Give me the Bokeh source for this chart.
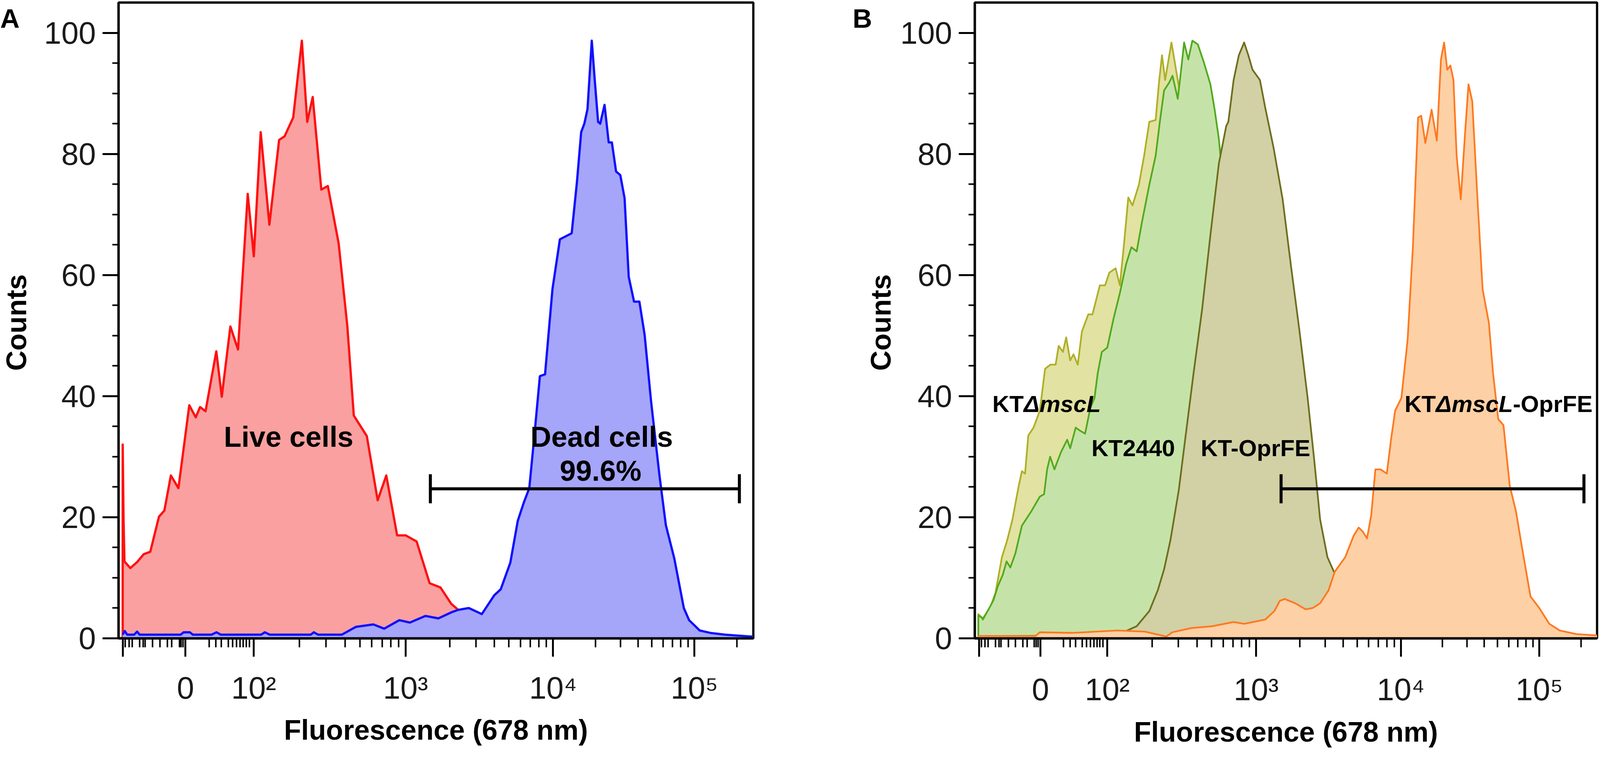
import math
from bokeh.plotting import figure
from bokeh.layouts import row
from bokeh.models import FixedTicker
from bokeh.core.properties import value
from bokeh.embed import file_html
from bokeh.resources import INLINE

# ---------------- data (x in display channels 0..1024 of a logicle axis) ----------------
LIVE_X = [6.7, 6.7, 8, 9.5, 19, 30, 40.7, 51.2, 65.2, 73.9, 84.4, 96.6, 114.1, 124.5, 131.5, 140.3,
          157.7, 166.5, 180.4, 192.7, 208.4, 218.2, 229.3, 243.3, 259, 267.8, 281.7, 295.7, 304.4,
          313.2, 327.1, 337.6, 355.1, 369.1, 379.5, 400.5, 418, 431.9, 449.4, 463.4, 480.8, 501.8,
          519.3, 536.7, 548, 560, 575, 590, 1024]
LIVE_Y = [0, 32, 20, 12.7, 11.6, 12.6, 13.9, 14.3, 20.1, 21.1, 26.9, 24.8, 38.5, 36.5, 38.2, 37.5,
          47.4, 39.9, 51.5, 47.7, 73.4, 63.1, 83.6, 68.3, 82.3, 82.9, 86.0, 98.7, 85.3,
          89.4, 74.1, 74.7, 65.2, 51.5, 36.8, 33.4, 22.8, 26.9, 17.0, 17.0, 16.0, 9.1,
          8.4, 5.7, 4.7, 3.5, 1.0, 0.3, 0.3]

DEAD_X = [6.7, 10, 14, 25, 30, 34, 60, 100, 105, 115, 120, 150, 158, 165, 230, 236, 244, 310, 315,
          322, 360, 383, 411, 428.5, 453, 470, 495, 516, 537, 548, 565, 586, 606, 616.5, 632, 644,
          654, 662.6, 671, 679.7, 688, 700, 712, 731, 739.5, 746.3, 751.4, 756.5, 763.4, 768.5,
          773.6, 777, 784, 790.7, 795.8, 802.6, 809.4, 816.3, 823, 831.6, 840.2, 848.7, 859,
          872.6, 882.9, 896.5, 911.9, 920.4, 937.5, 954.6, 978.5, 1019.5, 1024]
DEAD_Y = [0.6, 1.2, 0.6, 0.6, 1.1, 0.6, 0.6, 0.6, 1.0, 1.0, 0.6, 0.6, 1.0, 0.6, 0.6, 1.0, 0.6, 0.6, 1.0,
          0.6, 0.6, 1.9, 2.3, 1.6, 3.0, 2.6, 3.7, 3.3, 4.3, 4.7, 5.0, 4.0, 7.1, 8.1, 12.5, 19.4,
          22.5, 24.8, 33.7, 43.3, 43.6, 57.7, 65.9, 66.9, 75.4, 83.6, 85.0, 87.4, 98.7, 91.8,
          85.3, 85.0, 88.1, 81.9, 81.9, 77.1, 76.5, 72.7, 59.7, 55.6, 55.6, 50.1, 39.2,
          26.9, 18.7, 13.2, 5.0, 3.0, 1.3, 0.9, 0.6, 0.3, 0.3]

MSCL_X = [5.8, 5.8, 13, 25, 34, 44.6, 53.3, 61.9, 72.3, 77.5, 82.7, 88, 96.6, 107, 115.6, 124.3, 133,
          138, 145, 150.3, 157, 162.4, 169.4, 176.3, 186.7, 193.6, 205.8, 214.4, 221.4, 231.8, 238.7,
          245.6, 252.6, 259.5, 270, 278.6, 287.2, 297.6, 302.8, 308, 313.2, 318.4, 323.6, 330.5,
          336, 345, 358, 372, 388, 400, 410, 420, 435, 450, 465, 485, 510, 1024]
MSCL_Y = [0, 4.0, 3.3, 5.0, 7.5, 13.4, 16.2, 19.6, 25.2, 27.6, 27.2, 33.5, 34.8, 37.6, 44.5, 45.2, 45.2,
          48.3, 47.3, 49.7, 45.9, 46.9, 45.2, 50.7, 53.5, 53.5, 58.3, 58.3, 60.4, 61.1, 58.3,
          65.2, 72.8, 71.5, 74.9, 79.7, 85.3, 85.6, 91.5, 96.3, 92.2, 95.3, 98.4, 94.3,
          91, 95, 97, 93, 86, 76, 62, 48, 32, 18, 8, 3, 0.5, 0.3]

KT2440_X = [5.8, 5.8, 11.7, 13.2, 23.8, 30.7, 37.9, 46.1, 52.3, 58.5, 66.7, 77.5, 93.1, 107, 114, 119,
            124, 131, 141.6, 152, 157, 166, 174.6, 181.5, 190, 197, 202.3, 209, 218, 228.3, 238.7,
            249, 257.7, 266.4, 275, 287.2, 297.6, 304.5, 311.5, 320, 325.3, 334, 339.2, 344.4,
            351.3, 358, 367, 377.3, 387.7, 394.7, 401.6, 406.8, 415, 425, 440, 455, 470, 490,
            510, 530, 1024]
KT2440_Y = [0, 3.8, 3.4, 3.1, 5.0, 6.3, 8.6, 10.5, 12.7, 11.7, 14.0, 18.6, 21.0, 23.4, 23.8, 27.9,
            30.0, 27.9, 30.7, 32.8, 31.4, 34.8, 34.2, 33.8, 38.0, 39.7, 43.8, 47.3, 48.0, 52.8, 57.0,
            61.8, 64.6, 63.9, 68.7, 74.9, 79.7, 85.3, 90.5, 91.8, 92.9, 89.1, 93.6, 98.4,
            95.6, 98.7, 98.1, 95.0, 91.5, 87.3, 82.5, 77.0, 65, 50, 32, 18, 8, 3,
            1, 0.3, 0.3]

OPRFE_X = [5.8, 235, 266.4, 287.2, 301, 311.5, 321.9, 335.7, 346.1, 360, 373.9, 387.7, 401.6, 413.7,
           417.2, 425.9, 434.5, 443.2, 450.1, 457, 469.2, 477.8, 491.7, 506.6, 520.3, 534, 547.7,
           558, 568.3, 580.3, 592.3, 606, 620, 640, 660, 1024]
OPRFE_Y = [0.3, 0.6, 2.0, 4.5, 7.9, 11.4, 16.2, 24.5, 32.8, 43.8, 54.2, 66.6, 78.4, 84.6,
           85.3, 92.2, 96.3, 98.4, 96.3, 93.9, 92.2, 87.7, 81.0, 72.5, 61.5, 51.0, 39.7,
           30.0, 19.6, 13.4, 10.7, 7, 4, 1.2, 0.4, 0.3]

MSCL_OPRFE_X = [5.8, 100, 107, 160, 235, 280, 315, 325, 356.5, 391, 426, 443, 478, 492.9, 502, 510,
                527.2, 544.3, 556, 568.3, 582, 592.3, 609.5, 623.2, 631.7, 638.6, 645.4, 652.3,
                659.2, 667.7, 678, 684.9, 691.7, 702, 712.3, 720.9, 729.4, 734.6, 741.4, 751.7,
                760.3, 767.1, 772.3, 777.4, 782.6, 787.7, 792.9, 799.7, 806.6, 812.4, 818.6,
                827.1, 835.7, 846, 852.8, 861.4, 870, 880.3, 890.5, 900.8, 914.5, 928.3, 945.4,
                962.5, 990, 1020.8, 1024]
MSCL_OPRFE_Y = [0.4, 0.4, 1.0, 0.9, 1.3, 1.1, 0.3, 1.0, 1.7, 2.0, 2.7, 2.4, 3.1, 4.5, 6.2, 6.5,
                5.8, 4.8, 5.0, 5.8, 7.9, 11.0, 13.4, 16.9, 18.3, 17.6, 16.5, 20.3,
                27.9, 27.9, 27.2, 32.8, 37.6, 39.7, 49.4, 64.6, 86.0, 86.3, 81.8, 87.3,
                82.2, 95.6, 98.4, 93.9, 94.6, 92.2, 79.7, 72.5, 83.2, 91.5, 88.7,
                72.8, 57.6, 52.1, 43.8, 36.2, 35.2, 25.2, 21.0, 14.8, 6.9, 5.1, 2.4,
                1.3, 0.7, 0.5, 0.5]

GATE_A = [503, 1001.5]
GATE_B = [504, 1002.4]
GATE_Y = 24.7

# axis tick definitions (logicle display positions in channels)
X_MAJOR = [7, 108, 218, 463, 701, 929]
X_MAJOR_LABELS = ["", "0", "10²", "10³", "10⁴", "10⁵"]
X_LINEAR_MINOR = [11, 17, 22, 34, 40, 43, 55, 67, 79, 86, 98, 101, 104,
                  146, 157, 166, 177, 184, 190, 196, 201, 206, 211]
Y_MAJOR = [0, 20, 40, 60, 80, 100]
Y_MINOR = [v for v in range(5, 100, 5) if v % 20 != 0]

# ---------------- styling / layout ----------------
FONT = "Liberation Sans"
X_END = 1024
Y_END = 105
SX = 0.965           # horizontal pixel scale of the layout
SY = 0.9756          # vertical pixel scale of the layout
SF = 0.97            # font scale
H0 = 1965            # nominal canvas height before scaling


def pxx(v):
    return int(round(v * SX))


def pxy(v):
    return int(round(v * SY))


def fpx(v):
    return f"{v * SF:.1f}px"


H = pxy(H0)


def decade_minor():
    out = []
    decs = X_MAJOR[2:]
    for i, p0 in enumerate(decs):
        span = (decs[i + 1] - p0) if i + 1 < len(decs) else (p0 - decs[i - 1])
        for m in range(2, 10):
            t = p0 + span * math.log10(m)
            if t < X_END:
                out.append(round(t, 2))
    return out


def make_fig(width, bl, br, bt, bb, tick_standoff, label_standoff):
    p = figure(width=pxx(width), height=H, x_range=(0, X_END), y_range=(0, Y_END),
               output_backend="svg", toolbar_location=None,
               min_border_left=pxx(bl), min_border_right=pxx(br),
               min_border_top=pxy(bt), min_border_bottom=pxy(bb))
    p.grid.visible = False
    p.outline_line_color = "black"
    p.outline_line_width = 6 * SX
    p.background_fill_color = "white"
    p.border_fill_color = "white"

    xa = p.xaxis[0]
    xa.ticker = FixedTicker(ticks=X_MAJOR, minor_ticks=X_LINEAR_MINOR + decade_minor())
    xa.major_label_overrides = {t: l for t, l in zip(X_MAJOR, X_MAJOR_LABELS)}
    xa.axis_label = "Fluorescence (678 nm)"
    ya = p.yaxis[0]
    ya.ticker = FixedTicker(ticks=Y_MAJOR, minor_ticks=Y_MINOR)

    for ax in (xa, ya):
        ax.axis_line_width = 6 * SX
        ax.axis_line_color = "black"
        ax.major_tick_line_width = 5 * SX
        ax.minor_tick_line_width = 4 * SX
        ax.major_tick_line_color = "black"
        ax.minor_tick_line_color = "black"
        ax.major_tick_in = 0
        ax.minor_tick_in = 0
        ax.major_label_text_font = FONT
        ax.major_label_text_font_size = fpx(82)
        ax.major_label_text_color = "#1a1a1a"
        ax.axis_label_text_font = FONT
        ax.axis_label_text_font_style = "bold"
        ax.axis_label_text_font_size = fpx(74)
        ax.axis_label_text_color = "black"
    xa.major_tick_out = pxy(48)
    xa.minor_tick_out = pxy(24)
    xa.major_label_standoff = pxy(tick_standoff)
    xa.axis_label_standoff = pxy(label_standoff)
    ya.major_tick_out = pxx(43)
    ya.minor_tick_out = pxx(17)
    ya.major_label_standoff = pxx(18)
    return p


def side_fig(width, letter, letter_x, counts_x, counts_anchor_y):
    """Narrow strip left of a panel holding the panel letter and the rotated 'Counts' title."""
    s = figure(width=pxx(width), height=H, x_range=(0, width), y_range=(0, H0),
               x_axis_type=None, y_axis_type=None, output_backend="svg", toolbar_location=None,
               min_border_left=0, min_border_right=0, min_border_top=0, min_border_bottom=0)
    s.grid.visible = False
    s.outline_line_color = None
    s.text(x=[letter_x], y=[H0 - 50], text=[letter], text_font=value(FONT), text_font_style="bold",
           text_font_size=fpx(71), text_align="left", text_baseline="alphabetic", text_color="black")
    s.text(x=[counts_x], y=[H0 - counts_anchor_y], text=["Counts"], text_font=value(FONT),
           text_font_style="bold", text_font_size=fpx(74), text_align="center",
           text_baseline="middle", angle=math.pi / 2, text_color="black")
    return s


def hist(p, xs, ys, fill, line, lw):
    p.varea(x=xs, y1=[0] * len(xs), y2=ys, fill_color=fill, fill_alpha=1.0)
    p.line(x=xs, y=ys, line_color=line, line_width=lw * SX, line_join="round")


def gate(p, gx, gy, half):
    p.segment(x0=[gx[0]], y0=[gy], x1=[gx[1]], y1=[gy], line_color="black", line_width=8 * SX)
    p.segment(x0=gx, y0=[gy - half] * 2, x1=gx, y1=[gy + half] * 2, line_color="black",
              line_width=8 * SX)


# ---------------- panel A ----------------
sA = side_fig(92, "A", 0, 43, 989)
pA = make_fig(2150, 222, 245, 2, H0 - 1686, 36, 20)
hist(pA, LIVE_X, LIVE_Y, "#FAA0A0", "#FF1010", 6)
hist(pA, DEAD_X, DEAD_Y, "#A5A5FA", "#1010FF", 6)
gate(pA, GATE_A, GATE_Y, 2.4)

pA.text(x=[274.4, 779.4, 777.6], y=[33.3, 33.3, 27.7], text=["Live cells", "Dead cells", "99.6%"],
        text_font=value(FONT), text_font_style="bold", text_font_size=fpx(76),
        text_align="center", text_baseline="alphabetic", text_color="black")

# ---------------- panel B ----------------
sB = side_fig(142, "B", 19, 93.5, 989)
pB = make_fig(1856, 198, 4, 6, H0 - 1675, 40, 22)
hist(pB, MSCL_X, MSCL_Y, "#E2E2A2", "#AFAF28", 4.5)
hist(pB, KT2440_X, KT2440_Y, "#C5E3A8", "#50AA1E", 4.5)
hist(pB, OPRFE_X, OPRFE_Y, "#D2D0A5", "#6E6E1E", 4.5)
hist(pB, MSCL_OPRFE_X, MSCL_OPRFE_Y, "#FDD0A5", "#FF781E", 4.5)
gate(pB, GATE_B, GATE_Y, 2.4)

FS_B = 62
KT_W = 1.333 * FS_B * SF        # advance of "KT" in Liberation Sans Bold
DMSCL_W = 3.28 * FS_B * SF      # advance of "ΔmscL" bold italic


def btext(p, x, y, text, style, xoff=0.0):
    p.text(x=[x], y=[y], text=[text], text_font=value(FONT), text_font_style=style,
           text_font_size=fpx(FS_B), text_align="left", text_baseline="alphabetic",
           text_color="black", x_offset=xoff)


btext(pB, 29, 38.7, "KT", "bold")
btext(pB, 29, 38.7, "ΔmscL", "bold italic", KT_W)
btext(pB, 192, 31.4, "KT2440", "bold")
btext(pB, 371.8, 31.4, "KT-OprFE", "bold")
btext(pB, 707.2, 38.7, "KT", "bold")
btext(pB, 707.2, 38.7, "ΔmscL", "bold italic", KT_W)
btext(pB, 707.2, 38.7, "-OprFE", "bold", KT_W + DMSCL_W)

layout = row(sA, pA, sB, pB)
open("out.html", "w").write(file_html(layout, INLINE))
